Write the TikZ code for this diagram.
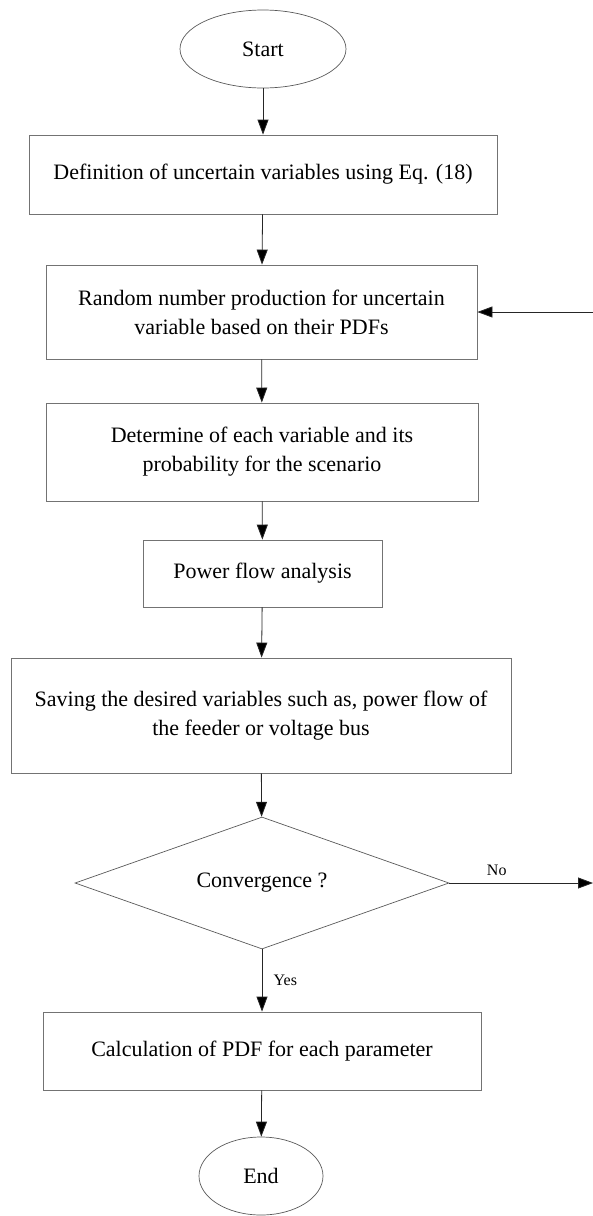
\documentclass[tikz,border=0pt]{standalone}
\usepackage{fontspec}
\setmainfont{Liberation Serif}
\usetikzlibrary{shapes.geometric,arrows.meta}

\tikzset{
  box/.style={draw=black!55, line width=.8pt, align=center, inner sep=2pt},
  term/.style={ellipse, draw=black!65, line width=.7pt, inner sep=0pt, minimum width=166pt, minimum height=78pt},
  flow/.style={draw=black!85, line width=.8pt, -{Triangle[length=15pt,width=11pt,fill=black]}},
  small/.style={font=\fontsize{16}{19}\selectfont}
}

\begin{document}
\begin{tikzpicture}[x=1pt,y=-1pt,font=\fontsize{22}{29}\selectfont]
      \useasboundingbox (0,0) rectangle (593,1216);
      % terminals
      \node[term](start)at(263,49){Start};
      \node[term, minimum width=124pt](stop)at(261,1176){End};
      % process boxes
      \node[box, minimum width=468pt, minimum height=79pt](def)at(263,174.5){Definition of uncertain variables using Eq. (18)};
      \node[box, minimum width=431pt, minimum height=94pt](rand)at(261.5,312){Random number production for uncertain\\variable based on their PDFs};
      \node[box, minimum width=432pt, minimum height=98pt](det)at(262,452){Determine of each variable and its\\probability for the scenario};
      \node[box, minimum width=239pt, minimum height=67pt](pf)at(262.5,573.5){Power flow analysis};
      \node[box, minimum width=500pt, minimum height=115pt](save)at(261,715.5){Saving the desired variables such as, power flow of\\the feeder or voltage bus};
      \node[diamond, draw=black!65, line width=.7pt, inner sep=0pt, aspect=2.8, minimum width=374pt, minimum height=132pt](conv)at(262,883){Convergence ?};
      \node[box, minimum width=438pt, minimum height=78pt](calc)at(262,1051){Calculation of PDF for each parameter};
      % loose ends at the right edge
      \coordinate(noend)at(593,883);
      \coordinate(back)at(593,312);
      \foreach \A/\B in{start/def, def/rand, rand/det, det/pf, pf/save, save/conv, calc/stop}{
        \draw[flow](\A)--(\B);
      }
      \draw[flow](conv)--node[small, midway, right=8pt]{Yes}(calc);
      \draw[flow](conv.east)--node[small, pos=.33, above=4pt]{No}(noend);
      \draw[flow](back)--(rand.east);
    \end{tikzpicture}
\end{document}
